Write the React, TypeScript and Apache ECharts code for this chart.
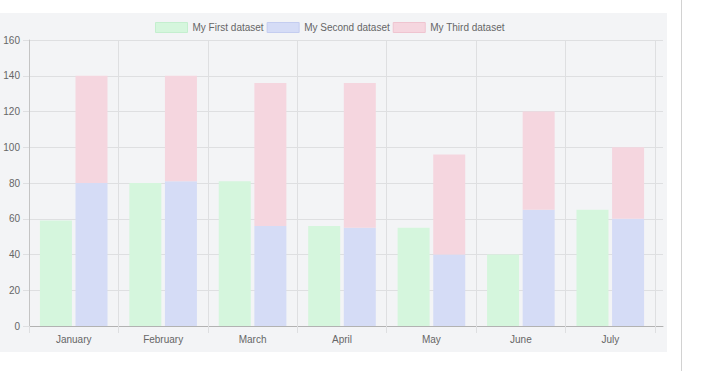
import React, { useEffect, useRef } from "react";
import * as echarts from "echarts";

const categories = ["January", "February", "March", "April", "May", "June", "July"];
const firstData = [59, 80, 81, 56, 55, 40, 65];
const secondData = [80, 81, 56, 55, 40, 65, 60];
const thirdData = [60, 59, 80, 81, 56, 55, 40];
const seriesNames = ["My First dataset", "My Second dataset", "My Third dataset"];
const yMin = 0;
const yMax = 160;
const yStep = 20;

const FONT = "'Liberation Sans', Arial, sans-serif";
const TEXT = "#666666";
const GRIDLINE = "#dedfe1";

export default function App() {
  const ref = useRef<HTMLDivElement>(null);
  useEffect(() => {
    if (!ref.current) return;
    const chart = echarts.init(ref.current, null, { renderer: "svg" });
    const fills = ["#d5f6dd", "#d5dcf6", "#f5d6df"];
    const borders = ["#c4efcf", "#c4cdf0", "#efc4d0"];
    const datas = [firstData, secondData, thirdData];
    const stacks = ["a", "b", "b"];
    chart.setOption({
      animation: false,
      textStyle: { fontFamily: FONT },
      graphic: [
        { type: "rect", z: -10, silent: true, shape: { x: 0, y: 13, width: 667, height: 339 }, style: { fill: "#f3f4f6" } },
        { type: "line", silent: true, shape: { x1: 681.5, y1: 0, x2: 681.5, y2: 371 }, style: { stroke: "#d2d2d2", lineWidth: 1 } },
      ],
      legend: {
        left: 155,
        top: 22,
        itemWidth: 32,
        itemHeight: 10,
        itemGap: 3,
        icon: "rect",
        textStyle: { fontFamily: FONT, fontSize: 10, color: TEXT, padding: [0, 0, 0, 0] },
        data: seriesNames.map((n, i) => ({
          name: n,
          itemStyle: { color: fills[i], borderColor: borders[i], borderWidth: 1 },
        })),
        padding: 0,
      },
      grid: [
        { left: 29, top: 40, width: 626, bottom: 45 },
        { left: 29, top: 40, width: 634, bottom: 45 },
      ],
      xAxis: [
        {
          type: "category",
          gridIndex: 0,
          data: categories,
          axisLine: { show: false },
          axisTick: { show: true, length: 7, interval: 0, lineStyle: { color: GRIDLINE } },
          splitLine: { show: true, interval: 0, lineStyle: { color: GRIDLINE } },
          axisLabel: { color: TEXT, fontSize: 10, fontFamily: FONT, margin: 8, interval: 0 },
        },
        {
          type: "value",
          gridIndex: 1,
          min: 0,
          max: 1,
          axisLine: { show: true, lineStyle: { color: "#b2b2b2" } },
          axisTick: { show: false },
          axisLabel: { show: false },
          splitLine: { show: false },
        },
      ],
      yAxis: [
        {
          type: "value",
          gridIndex: 0,
          min: yMin,
          max: yMax,
          interval: yStep,
          axisLine: { show: true, lineStyle: { color: "#c4c4c4" } },
          axisTick: { show: true, length: 6, lineStyle: { color: GRIDLINE } },
          splitLine: { show: false },
          axisLabel: { color: TEXT, fontSize: 10, fontFamily: FONT, margin: 9 },
        },
        {
          type: "value",
          gridIndex: 1,
          min: yMin,
          max: yMax,
          interval: yStep,
          axisLine: { show: false },
          axisTick: { show: false },
          axisLabel: { show: false },
          splitLine: { show: true, lineStyle: { color: GRIDLINE } },
        },
      ],
      series: datas.map((d, i) => ({
        name: seriesNames[i],
        type: "bar",
        xAxisIndex: 0,
        yAxisIndex: 0,
        stack: stacks[i],
        data: d,
        barWidth: 32,
        barGap: "11.25%",
        itemStyle: { color: fills[i] },
        emphasis: { disabled: true },
      })),
    });
    return () => chart.dispose();
  }, []);
  return (
    <div
      ref={ref}
      style={{ position: "fixed", left: 0, top: 0, width: 702, height: 371, background: "#ffffff" }}
    />
  );
}
